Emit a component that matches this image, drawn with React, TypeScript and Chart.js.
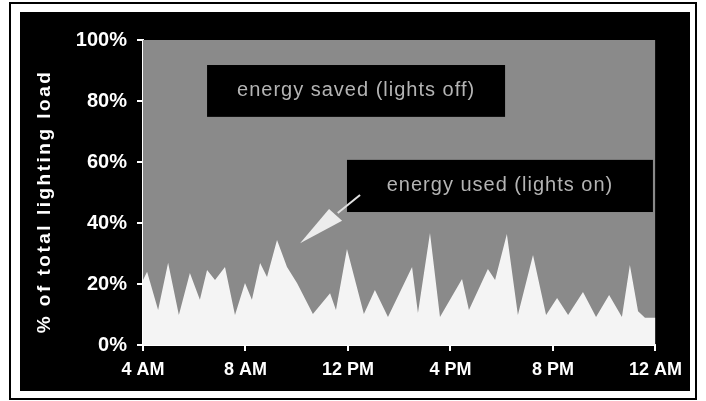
import React, { useEffect, useRef } from 'react';
import { Chart, registerables } from 'chart.js';

Chart.register(...registerables);

// hours after midnight (4 = 4 AM, 24 = 12 AM)
const HOURS = [4.0, 4.16, 4.59, 4.98, 5.4, 5.83, 6.22, 6.5, 6.81, 7.2, 7.59, 7.98, 8.25, 8.57, 8.84, 9.23, 9.62, 10.01, 10.63, 11.3, 11.53, 11.96, 12.62, 13.05, 13.56, 14.03, 14.5, 14.73, 15.2, 15.59, 16.45, 16.72, 17.46, 17.74, 18.2, 18.63, 19.22, 19.73, 20.16, 20.59, 21.17, 21.68, 22.19, 22.69, 23.0, 23.32, 23.59, 24.0];
// energy used (lights on), % of total lighting load
const USED = [21.3, 24, 11.5, 27, 9.8, 23.6, 14.8, 24.6, 21.3, 25.6, 9.8, 20.3, 14.8, 26.9, 22.3, 34.4, 25.6, 20.3, 10.2, 17, 11.5, 31.5, 10.2, 18, 9.2, 17.4, 25.6, 10.5, 36.7, 9.2, 21.6, 11.5, 24.9, 21.3, 36.4, 9.8, 29.5, 9.8, 15.4, 9.8, 17.4, 9.2, 16.4, 9.2, 26.2, 11.1, 8.9, 8.9];
// energy saved (lights off) fills the rest up to total load
const SAVED_HOURS = [4, 24];
const SAVED_TOP = [100, 100];

const X_TICKS = [4, 8, 12, 16, 20, 24];
const X_TICK_LABELS = ['4 AM', '8 AM', '12 PM', '4 PM', '8 PM', '12 AM'];
const Y_TICKS = [0, 20, 40, 60, 80, 100];
const Y_TITLE = '% of total lighting load';

const NOTE_SAVED = { text: 'energy saved (lights off)', x0: 6.5, x1: 18.13, y0: 74.8, y1: 91.8 };
const NOTE_USED = { text: 'energy used (lights on)', x0: 11.96, x1: 23.9, y0: 43.6, y1: 60.7 };
const ARROW_TIP = [10.13, 33.4];
const ARROW_B1 = [11.26, 44.6];
const ARROW_B2 = [11.77, 40.7];
const ARROW_L0 = [11.6, 43.3];
const ARROW_L1 = [12.47, 49.2];

const FONT = "'Liberation Sans', Arial, sans-serif";

const notesPlugin = {
  id: 'notes',
  afterDatasetsDraw(chart: any) {
    const { ctx, scales, chartArea } = chart;
    const xs = scales.x;
    const ys = scales.y;
    const px = (v: number) => xs.getPixelForValue(v);
    const py = (v: number) => ys.getPixelForValue(v);
    ctx.save();
    for (const n of [NOTE_SAVED, NOTE_USED]) {
      const l = px(n.x0), r = px(n.x1), t = py(n.y1), b = py(n.y0);
      ctx.fillStyle = '#000';
      ctx.fillRect(l, t, r - l, b - t);
      ctx.fillStyle = '#b4b4b4';
      ctx.font = `20px ${FONT}`;
      (ctx as any).letterSpacing = '1px';
      ctx.textAlign = 'center';
      ctx.textBaseline = 'middle';
      ctx.fillText(n.text, (l + r) / 2, (t + b) / 2);
    }
    (ctx as any).letterSpacing = '0px';
    // arrow
    ctx.fillStyle = '#ececec';
    ctx.beginPath();
    ctx.moveTo(px(ARROW_TIP[0]), py(ARROW_TIP[1]));
    ctx.lineTo(px(ARROW_B1[0]), py(ARROW_B1[1]));
    ctx.lineTo(px(ARROW_B2[0]), py(ARROW_B2[1]));
    ctx.closePath();
    ctx.fill();
    ctx.strokeStyle = '#e0e0e0';
    ctx.lineWidth = 2;
    ctx.beginPath();
    ctx.moveTo(px(ARROW_L0[0]), py(ARROW_L0[1]));
    ctx.lineTo(px(ARROW_L1[0]), py(ARROW_L1[1]));
    ctx.stroke();
    // y axis title
    ctx.translate(25, (chartArea.top + chartArea.bottom) / 2 + 9);
    ctx.rotate(-Math.PI / 2);
    ctx.fillStyle = '#fff';
    ctx.font = `bold 19px ${FONT}`;
    (ctx as any).letterSpacing = '2.5px';
    ctx.textAlign = 'center';
    ctx.textBaseline = 'middle';
    ctx.fillText(Y_TITLE, 0, 0);
    ctx.restore();
  },
};

export default function App() {
  const ref = useRef<HTMLCanvasElement>(null);
  useEffect(() => {
    const canvas = ref.current;
    if (!canvas) return;
    const chart = new Chart(canvas, {
      type: 'line',
      data: {
        datasets: [
          {
            label: 'energy used (lights on)',
            data: HOURS.map((h, i) => ({ x: h, y: USED[i] })),
            fill: 'origin',
            backgroundColor: '#f4f4f4',
            borderWidth: 0,
            pointRadius: 0,
            tension: 0,
          },
          {
            label: 'energy saved (lights off)',
            data: SAVED_HOURS.map((h, i) => ({ x: h, y: SAVED_TOP[i] })),
            fill: 'origin',
            backgroundColor: '#8a8a8a',
            borderWidth: 0,
            pointRadius: 0,
            tension: 0,
          },
        ],
      },
      options: {
        animation: false,
        responsive: false,
        maintainAspectRatio: false,
        layout: { padding: { top: 28, right: 34, left: 0, bottom: 0 } },
        plugins: {
          legend: { display: false },
          tooltip: { enabled: false },
          title: { display: false },
        },
        scales: {
          x: {
            type: 'linear',
            min: 4,
            max: 24,
            z: 1,
            afterBuildTicks: (s: any) => {
              s.ticks = X_TICKS.map((v) => ({ value: v }));
            },
            afterFit: (s: any) => {
              s.height = 46;
            },
            ticks: {
              color: '#fff',
              font: { family: FONT, size: 18, weight: 'bold' },
              padding: 8,
              maxRotation: 0,
              autoSkip: false,
              callback: (v: any) => X_TICK_LABELS[X_TICKS.indexOf(Number(v))] ?? '',
            },
            grid: { drawOnChartArea: false, color: '#fff', tickLength: 6, lineWidth: 2 },
            border: { color: '#fff', width: 2 },
          },
          y: {
            type: 'linear',
            min: 0,
            max: 100,
            z: 1,
            afterBuildTicks: (s: any) => {
              s.ticks = Y_TICKS.map((v) => ({ value: v }));
            },
            afterFit: (s: any) => {
              s.width = 123;
            },
            ticks: {
              color: '#fff',
              font: { family: FONT, size: 20, weight: 'bold' },
              padding: 10,
              callback: (v: any) => `${v}%`,
            },
            grid: { drawOnChartArea: false, color: '#fff', tickLength: 6, lineWidth: 2 },
            border: { color: '#fff', width: 2 },
          },
        },
      } as any,
      plugins: [notesPlugin],
    });
    return () => chart.destroy();
  }, []);

  return (
    <div style={{ position: 'fixed', left: 0, top: 0, width: 706, height: 401, background: '#fff', overflow: 'hidden' }}>
      <div style={{ position: 'absolute', left: 9, top: 2, width: 684, height: 394, border: '2px solid #000' }} />
      <div style={{ position: 'absolute', left: 20, top: 12, width: 670, height: 379, background: '#000' }}>
        <canvas ref={ref} width={670} height={379} style={{ display: 'block', width: 670, height: 379 }} />
      </div>
    </div>
  );
}
